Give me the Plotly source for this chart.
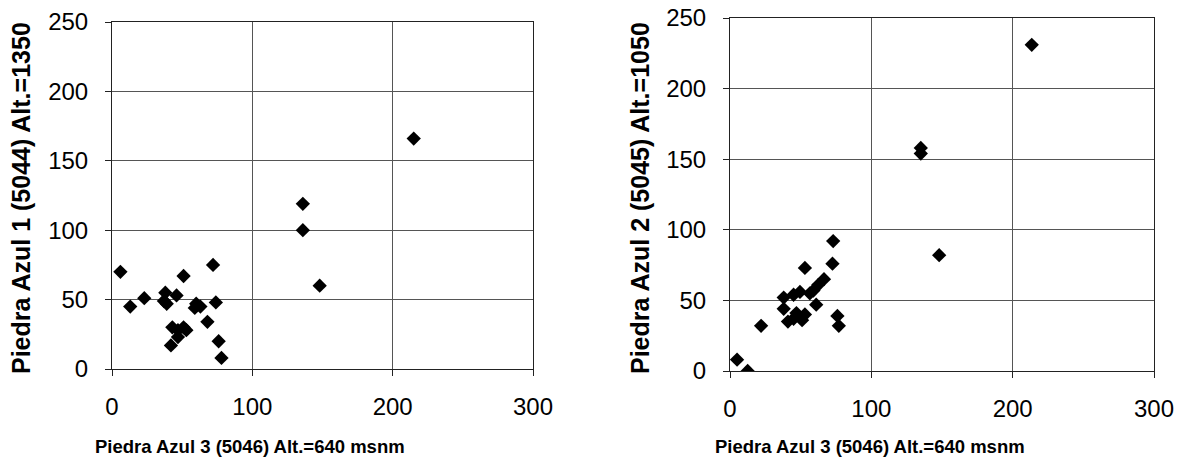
import plotly.graph_objects as go

# Left panel: Piedra Azul 3 (x) vs Piedra Azul 1 (y)
pa3_left = [6, 13, 23, 38, 37, 39, 46, 51, 72, 60, 59, 63, 74, 68, 43, 47, 51, 53, 47, 42, 76, 78, 136, 136, 148, 215]
pa1 = [70, 45, 51, 55, 49, 47, 53, 67, 75, 47, 44, 45, 48, 34, 30, 28, 30, 28, 23, 17, 20, 8, 119, 100, 60, 166]

# Right panel: Piedra Azul 3 (x) vs Piedra Azul 2 (y)
pa3_right = [5, 12.5, 22, 38, 38, 41, 45, 49.5, 47, 51, 53, 53, 61, 59, 62.5, 66.5, 73, 72.5, 76, 77, 45, 56.5, 135, 135, 148, 213.5]
pa2 = [8, 0, 32, 52, 44, 35, 54, 56, 41, 36, 40, 73, 47, 57, 61, 65, 92, 76, 39, 32, 37, 55, 158, 154, 82, 231]

x_ticks = [0, 100, 200, 300]
y_ticks = [0, 50, 100, 150, 200, 250]

x_title = "Piedra Azul 3 (5046) Alt.=640 msnm"
y_title_left = "Piedra Azul 1 (5044) Alt.=1350"
y_title_right = "Piedra Azul 2 (5045) Alt.=1050"

W, H = 1178, 464


def fx(px):
    return px / W


def fy(py):
    return (H - py) / H


fig = go.Figure()
marker = dict(symbol="diamond", size=11, color="black", line=dict(width=0))
fig.add_trace(go.Scatter(x=pa3_left, y=pa1, mode="markers", marker=marker, xaxis="x", yaxis="y", showlegend=False))
fig.add_trace(go.Scatter(x=pa3_right, y=pa2, mode="markers", marker=marker, xaxis="x2", yaxis="y2", showlegend=False))

tickfont = dict(family="Arial, Liberation Sans", size=24, color="black")
titlefont = dict(family="Arial, Liberation Sans", size=18.5, color="black", weight="bold")
ytitlefont = dict(family="Arial, Liberation Sans", size=25, color="black", weight="bold")


def xaxis_cfg(domain, anchor):
    return dict(domain=domain, anchor=anchor, range=[0, 300], tickvals=x_ticks,
                showgrid=True, gridcolor="#555555", gridwidth=1,
                showline=True, linecolor="#222", linewidth=1, mirror=True,
                ticks="outside", ticklen=6, tickcolor="#222", automargin=False,
                ticklabeloverflow="allow",
                tickfont=tickfont, ticklabelstandoff=10, zeroline=False, fixedrange=True)


def yaxis_cfg(domain, anchor):
    return dict(domain=domain, anchor=anchor, range=[0, 250], tickvals=y_ticks,
                showgrid=True, gridcolor="#555555", gridwidth=1,
                showline=True, linecolor="#222", linewidth=1, mirror=True,
                ticks="outside", ticklen=6, tickcolor="#222", automargin=False,
                ticklabeloverflow="allow",
                tickfont=tickfont, ticklabelstandoff=12, zeroline=False, fixedrange=True)


fig.update_layout(
    width=W, height=H,
    margin=dict(l=0, r=0, t=0, b=0),
    paper_bgcolor="white", plot_bgcolor="white",
    hovermode=False,
    xaxis=xaxis_cfg([fx(112), fx(533)], "y"),
    yaxis=yaxis_cfg([fy(369), fy(22)], "x"),
    xaxis2=xaxis_cfg([fx(730), fx(1154)], "y2"),
    yaxis2=yaxis_cfg([fy(371), fy(18)], "x2"),
    annotations=[
        dict(text=x_title, xref="paper", yref="paper", x=fx(250), y=fy(446),
             showarrow=False, font=titlefont, xanchor="center", yanchor="middle"),
        dict(text=x_title, xref="paper", yref="paper", x=fx(870), y=fy(446),
             showarrow=False, font=titlefont, xanchor="center", yanchor="middle"),
        dict(text=y_title_left, xref="paper", yref="paper", x=fx(21), y=fy(198),
             showarrow=False, font=ytitlefont, textangle=-90, xanchor="center", yanchor="middle"),
        dict(text=y_title_right, xref="paper", yref="paper", x=fx(640), y=fy(198),
             showarrow=False, font=ytitlefont, textangle=-90, xanchor="center", yanchor="middle"),
    ],
)

# remove the default page margin so the figure fills the window exactly
fig.write_html("out.html", config={"displayModeBar": False},
               post_script="document.body.style.margin='0';document.body.style.overflow='hidden';")
